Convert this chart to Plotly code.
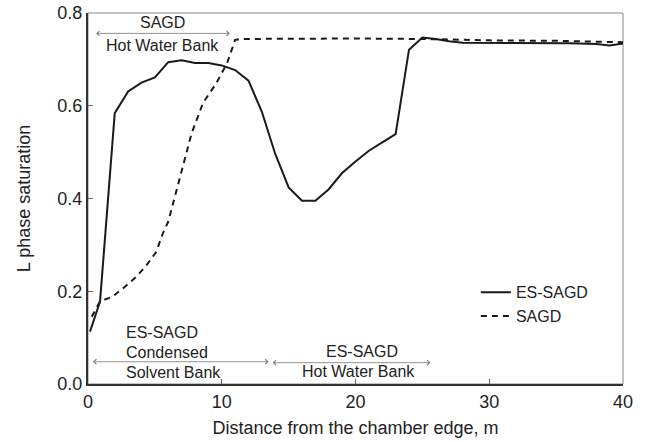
import plotly.graph_objects as go

# ES-SAGD (solid)
es_x = [0.15, 0.9, 2.0, 3.0, 4.0, 5.0, 6.0, 7.0, 8.0, 9.0, 10.0, 11.0, 12.0, 13.0, 14.0, 15.0, 16.0, 17.0,
        18.0, 19.0, 20.0, 21.0, 22.0, 23.0, 24.0, 25.0, 26.0, 27.0, 28.0, 30.0, 32.0, 34.0, 36.0, 38.0, 39.0, 40.0]
es_y = [0.113, 0.178, 0.584, 0.631, 0.650, 0.661, 0.694, 0.698, 0.692, 0.692, 0.687, 0.677, 0.654, 0.587,
        0.496, 0.424, 0.395, 0.395, 0.420, 0.455, 0.480, 0.503, 0.521, 0.539, 0.721, 0.747, 0.744, 0.739,
        0.736, 0.736, 0.736, 0.735, 0.735, 0.733, 0.730, 0.734]

# SAGD (dashed)
sagd_x = [0.28, 0.9, 1.8, 2.6, 3.6, 4.4, 5.1, 5.6, 6.0, 6.9, 7.75, 8.6, 9.6, 10.4, 11.0, 11.4,
          15.0, 20.0, 25.0, 30.0, 35.0, 40.0]
sagd_y = [0.145, 0.178, 0.188, 0.206, 0.231, 0.257, 0.285, 0.325, 0.350, 0.447, 0.541, 0.606, 0.649,
          0.692, 0.742, 0.744, 0.745, 0.745, 0.744, 0.741, 0.740, 0.737]

x_ticks = [0, 10, 20, 30, 40]
y_ticks = [0.0, 0.2, 0.4, 0.6, 0.8]

font = "Liberation Sans, Arial, sans-serif"
line_col = "#1a1a1a"
arrow_col = "#777777"
text_col = "#222222"

fig = go.Figure()
fig.add_trace(go.Scatter(x=es_x, y=es_y, mode="lines", name="ES-SAGD",
                         line=dict(color=line_col, width=2)))
fig.add_trace(go.Scatter(x=sagd_x, y=sagd_y, mode="lines", name="SAGD",
                         line=dict(color=line_col, width=2, dash="6px,5px")))

# frame (top/right) in light gray
fig.add_shape(type="rect", xref="paper", yref="paper", x0=0, y0=0, x1=1, y1=1,
              line=dict(color="#888888", width=1), layer="below")

def dbl_arrow(x0, x1, y):
    fig.add_annotation(x=x1, y=y, ax=x0, ay=y, xref="x", yref="y", axref="x", ayref="y",
                       text="", showarrow=True, arrowhead=4, startarrowhead=4,
                       arrowside="end+start", arrowsize=1.2, startarrowsize=1.2,
                       arrowwidth=0.8, arrowcolor=arrow_col)

def label(x, y, t, anchor="center"):
    fig.add_annotation(x=x, y=y, xref="x", yref="y", text=t, showarrow=False,
                       xanchor=anchor, font=dict(family=font, size=16, color=text_col))

# SAGD hot water bank (top)
dbl_arrow(0.5, 10.6, 0.756)
label(5.6, 0.779, "SAGD")
label(5.6, 0.730, "Hot Water Bank")

# ES-SAGD condensed solvent bank
dbl_arrow(0.27, 13.5, 0.048)
label(2.7, 0.110, "ES-SAGD", "left")
label(2.7, 0.068, "Condensed", "left")
label(2.7, 0.024, "Solvent Bank", "left")

# ES-SAGD hot water bank
dbl_arrow(13.7, 25.6, 0.046)
label(20.45, 0.070, "ES-SAGD")
label(20.2, 0.026, "Hot Water Bank")

fig.update_layout(
    width=649, height=442,
    margin=dict(l=88, r=26, t=13, b=58),
    plot_bgcolor="white", paper_bgcolor="white",
    font=dict(family=font, size=18, color=text_col),
    showlegend=True,
    legend=dict(x=0.725, y=0.293, xanchor="left", yanchor="top",
                bgcolor="rgba(0,0,0,0)", font=dict(family=font, size=16, color=text_col),
                itemwidth=30, tracegroupgap=0),
    xaxis=dict(range=[0, 40], tickvals=x_ticks, ticktext=[str(v) for v in x_ticks],
               ticks="inside", ticklen=5, tickcolor="#666", tickwidth=1, automargin=False,
               showline=True, linecolor="#333", linewidth=2, showgrid=False, zeroline=False,
               title=dict(text="Distance from the chamber edge, m", font=dict(size=18), standoff=11),
               tickfont=dict(size=18)),
    yaxis=dict(range=[0, 0.8], tickvals=y_ticks, ticktext=["%.1f" % v for v in y_ticks],
               ticks="inside", ticklen=5, tickcolor="#666", tickwidth=1, automargin=False,
               showline=True, linecolor="#333", linewidth=2, showgrid=False, zeroline=False,
               title=dict(text="L phase saturation", font=dict(size=18), standoff=22),
               tickfont=dict(size=18)),
)

fig.write_html("out.html")
